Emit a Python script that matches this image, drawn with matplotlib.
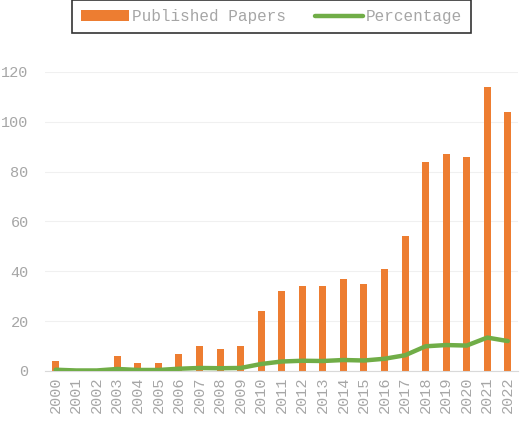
import matplotlib
matplotlib.use("Agg")
import matplotlib.pyplot as plt
import numpy as np

# ==========================================================
# Data
# ==========================================================

years = [str(y) for y in range(2000, 2023)]
papers = [4, 0, 0, 6, 3, 3, 7, 10, 9, 10, 24, 32, 34, 34, 37, 35, 41, 54, 84, 87, 86, 114, 104]
percentage = [0.5, 0.2, 0.2, 0.8, 0.4, 0.4, 0.9, 1.2, 1.1, 1.2, 2.8, 3.8, 4.1, 4.0, 4.4, 4.2, 4.9,
              6.3, 9.9, 10.4, 10.2, 13.4, 12.0]
y_ticks = [0, 20, 40, 60, 80, 100, 120]

# ==========================================================
# Plot
# ==========================================================

plt.rcParams["font.family"] = ["Liberation Mono", "DejaVu Sans Mono"]
grey = "#a6a6a6"

fig = plt.figure(figsize=(5.2, 4.23), dpi=100)
ax = fig.add_axes([0.0873, 0.123, 0.909, 0.707])

x = np.arange(len(years))
bars = ax.bar(x, papers, width=0.34, color="#ed7d31", label="Published Papers", zorder=2)
line, = ax.plot(x, percentage, color="#70ad47", lw=3.2, solid_capstyle="round",
                label="Percentage", zorder=3)

ax.set_xlim(-0.5, len(years) - 0.5)
ax.set_ylim(0, 120)
ax.set_yticks(y_ticks)
ax.set_xticks(x)
ax.set_xticklabels(years, rotation=90)
ax.tick_params(axis="both", length=0, colors=grey, labelsize=11)
ax.tick_params(axis="x", pad=4)
ax.tick_params(axis="y", pad=12)

ax.grid(axis="y", color="#f0f0f0", lw=0.8, zorder=0)
for side in ["top", "right", "left"]:
    ax.spines[side].set_visible(False)
ax.spines["bottom"].set_color("#d9d9d9")

leg = fig.legend(handles=[bars, line], labels=["Published Papers", "Percentage"],
                 loc="upper center", bbox_to_anchor=(0.522, 1.018), ncol=2, frameon=True,
                 fancybox=False, edgecolor="black", fontsize=11.5, handlelength=3.0,
                 columnspacing=1.8, handletextpad=0.2, borderpad=0.55)
leg.get_frame().set_linewidth(1.2)
for t in leg.get_texts():
    t.set_color(grey)

fig.savefig("out.png", dpi=100)
